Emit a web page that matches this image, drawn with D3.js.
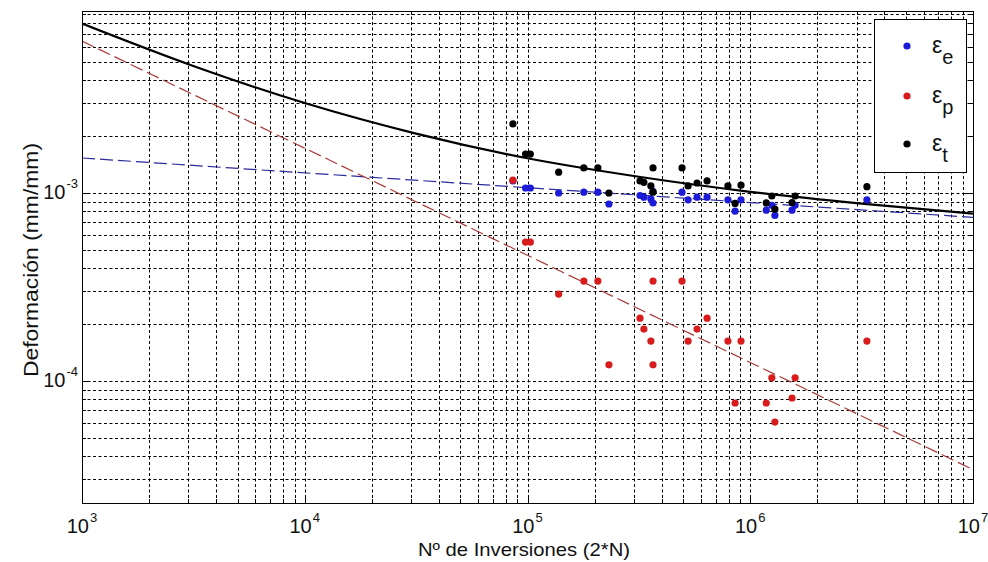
<!DOCTYPE html>
<html>
<head>
<meta charset="utf-8">
<script src="https://cdn.jsdelivr.net/npm/d3@7"></script>
<style>
  html, body { margin: 0; padding: 0; background: #fff; }
  svg { display: block; font-family: "Liberation Sans", Arial, sans-serif; }
</style>
</head>
<body>
<svg id="chart" width="988" height="562"></svg>
<script>
// ---------------- data ----------------
const cycles = [8.6e4, 9.8e4, 1.03e5, 1.38e5, 1.79e5, 2.07e5, 2.32e5, 3.20e5, 3.33e5, 3.58e5, 3.66e5, 3.66e5,
                4.94e5, 5.26e5, 5.77e5, 6.40e5, 7.94e5, 8.55e5, 9.09e5, 1.18e6, 1.25e6, 1.29e6, 1.54e6, 1.59e6, 3.34e6];
const epsElastic = [1.16e-3, 1.063e-3, 1.063e-3, 1.0e-3, 1.01e-3, 1.01e-3, 8.74e-4, 9.7e-4, 9.5e-4, 9.3e-4, 1.02e-3, 8.85e-4,
                1.01e-3, 9.2e-4, 9.5e-4, 9.5e-4, 9.2e-4, 8.0e-4, 9.2e-4, 8.1e-4, 8.6e-4, 7.6e-4, 8.1e-4, 8.6e-4, 9.2e-4];
const epsPlastic = [1.17e-3, 5.48e-4, 5.48e-4, 2.9e-4, 3.4e-4, 3.4e-4, 1.22e-4, 2.16e-4, 1.89e-4, 1.63e-4, 3.4e-4, 1.22e-4,
                3.4e-4, 1.63e-4, 1.89e-4, 2.16e-4, 1.63e-4, 7.64e-5, 1.63e-4, 7.64e-5, 1.04e-4, 6.05e-5, 8.12e-5, 1.04e-4, 1.63e-4];
const epsTotal = [2.33e-3, 1.61e-3, 1.61e-3, 1.29e-3, 1.36e-3, 1.36e-3, 1.0e-3, 1.16e-3, 1.14e-3, 1.09e-3, 1.36e-3, 1.01e-3,
                1.36e-3, 1.09e-3, 1.13e-3, 1.16e-3, 1.09e-3, 8.8e-4, 1.10e-3, 8.86e-4, 9.64e-4, 8.2e-4, 8.9e-4, 9.64e-4, 1.08e-3];

// fitted lines
const fitN = [1e3, 1e7];
const fitElastic = [1.535e-3, 7.42e-4];
const fitPlastic = [6.43e-3, 3.38e-5];
const totalN = [1e3, 3.16e3, 1e4, 3.16e4, 1e5, 3.16e5, 1e6, 3.16e6, 1e7];
const fitTotal = [7.97e-3, 4.74e-3, 3.01e-3, 2.07e-3, 1.53e-3, 1.22e-3, 1.015e-3, 8.78e-4, 7.76e-4];

const xMajorTicks = [1e3, 1e4, 1e5, 1e6, 1e7];
const xTickExp = ["3", "4", "5", "6", "7"];
const yMajorTicks = [1e-4, 1e-3];
const yTickExp = ["-4", "-3"];
const legendSubs = ["e", "p", "t"];
const xTitle = "Nº de Inversiones (2*N)";
const yTitle = "Deformación (mm/mm)";

// ---------------- layout ----------------
const svg = d3.select("#chart");
const L = 82, R = 973, T = 11, B = 503;
const x = d3.scaleLog().domain([1e3, 1e7]).range([L, R]);
const y = d3.scaleLog().domain([2.245e-5, 9.29e-3]).range([B, T]);

svg.append("rect").attr("width", 988).attr("height", 562).attr("fill", "#fff");

// minor/major tick values
const xAll = [];
for (let k = 3; k < 7; k++) for (let m = 1; m <= 9; m++) xAll.push(m * Math.pow(10, k));
const yAll = [];
for (let k = -5; k < -2; k++) for (let m = 1; m <= 9; m++) {
  const v = m * Math.pow(10, k);
  if (v >= 2.245e-5 && v <= 9.29e-3) yAll.push(v);
}

// grid
const grid = svg.append("g").attr("stroke", "#000").attr("stroke-width", 1).attr("stroke-dasharray", "3,2.5");
grid.selectAll("line.vx").data(xAll.filter(v => v > 1e3)).join("line")
  .attr("x1", d => Math.round(x(d)) + 0.5).attr("x2", d => Math.round(x(d)) + 0.5)
  .attr("y1", T).attr("y2", B);
grid.selectAll("line.hy").data(yAll).join("line")
  .attr("y1", d => Math.round(y(d)) + 0.5).attr("y2", d => Math.round(y(d)) + 0.5)
  .attr("x1", L).attr("x2", R);

// axes with inward ticks
const isMajorX = d => xMajorTicks.some(t => Math.abs(t - d) / t < 1e-9);
const isMajorY = d => yMajorTicks.some(t => Math.abs(t - d) / t < 1e-9);
const ticks = svg.append("g").attr("stroke", "#000").attr("stroke-width", 1);
xAll.concat([1e7]).forEach(d => {
  const px = Math.round(x(d)) + 0.5, len = isMajorX(d) ? 8 : 4;
  ticks.append("line").attr("x1", px).attr("x2", px).attr("y1", B).attr("y2", B - len);
  ticks.append("line").attr("x1", px).attr("x2", px).attr("y1", T).attr("y2", T + len);
});
yAll.forEach(d => {
  const py = Math.round(y(d)) + 0.5, len = isMajorY(d) ? 8 : 4;
  ticks.append("line").attr("y1", py).attr("y2", py).attr("x1", L).attr("x2", L + len);
  ticks.append("line").attr("y1", py).attr("y2", py).attr("x1", R).attr("x2", R - len);
});

// clip
svg.append("clipPath").attr("id", "clip").append("rect")
  .attr("x", L).attr("y", T).attr("width", R - L).attr("height", B - T);
const plot = svg.append("g").attr("clip-path", "url(#clip)");

const line = d3.line().x(d => x(d[0])).y(d => y(d[1]));
const lineSmooth = d3.line().x(d => x(d[0])).y(d => y(d[1])).curve(d3.curveMonotoneX);

plot.append("path").datum(fitN.map((n, i) => [n, fitElastic[i]]))
  .attr("d", line).attr("fill", "none").attr("stroke", "#2b2b9a").attr("stroke-width", 1.2)
  .attr("stroke-dasharray", "13,5");
plot.append("path").datum(fitN.map((n, i) => [n, fitPlastic[i]]))
  .attr("d", line).attr("fill", "none").attr("stroke", "#a83a3a").attr("stroke-width", 1.2)
  .attr("stroke-dasharray", "13,5");
plot.append("path").datum(totalN.map((n, i) => [n, fitTotal[i]]))
  .attr("d", lineSmooth).attr("fill", "none").attr("stroke", "#000").attr("stroke-width", 2.2);

// points
const r = 3.6;
const colE = "#1c1cd8", colP = "#d81c1c", colT = "#000";
plot.selectAll("circle.e").data(cycles.map((n, i) => [n, epsElastic[i]])).join("circle")
  .attr("cx", d => x(d[0])).attr("cy", d => y(d[1])).attr("r", r).attr("fill", colE);
plot.selectAll("circle.p").data(cycles.map((n, i) => [n, epsPlastic[i]])).join("circle")
  .attr("cx", d => x(d[0])).attr("cy", d => y(d[1])).attr("r", r).attr("fill", colP);
plot.selectAll("circle.t").data(cycles.map((n, i) => [n, epsTotal[i]])).join("circle")
  .attr("cx", d => x(d[0])).attr("cy", d => y(d[1])).attr("r", r).attr("fill", colT);

// frame
svg.append("rect").attr("x", L + 0.5).attr("y", T + 0.5).attr("width", R - L).attr("height", B - T)
  .attr("fill", "none").attr("stroke", "#000").attr("stroke-width", 1);

// x tick labels
xMajorTicks.forEach((t, i) => {
  const tx = svg.append("text").attr("x", x(t)).attr("y", 533).attr("text-anchor", "middle")
    .attr("font-size", 20).attr("fill", "#111");
  tx.append("tspan").text("10");
  tx.append("tspan").attr("dy", -11).attr("dx", 1).attr("font-size", 13).text(xTickExp[i]);
});
// y tick labels
yMajorTicks.forEach((t, i) => {
  const ty = svg.append("text").attr("x", 78).attr("y", y(t) + 6).attr("text-anchor", "end")
    .attr("font-size", 20).attr("fill", "#111");
  ty.append("tspan").text("10");
  ty.append("tspan").attr("dy", -11).attr("dx", 1).attr("font-size", 13).text(yTickExp[i]);
});

// axis titles
svg.append("text").attr("x", 524).attr("y", 556).attr("text-anchor", "middle")
  .attr("font-size", 19).attr("textLength", 212).attr("lengthAdjust", "spacingAndGlyphs")
  .attr("fill", "#111").text(xTitle);
svg.append("text").attr("transform", "translate(38,260) rotate(-90)").attr("text-anchor", "middle")
  .attr("font-size", 20).attr("textLength", 234).attr("lengthAdjust", "spacingAndGlyphs")
  .attr("fill", "#111").text(yTitle);

// legend
const lg = svg.append("g");
lg.append("rect").attr("x", 874.5).attr("y", 19.5).attr("width", 92).attr("height", 153)
  .attr("fill", "#fff").attr("stroke", "#000").attr("stroke-width", 1);
const legCols = [colE, colP, colT];
const legY = [46, 96, 144];
legendSubs.forEach((s, i) => {
  lg.append("circle").attr("cx", 907).attr("cy", legY[i]).attr("r", r).attr("fill", legCols[i]);
  const tt = lg.append("text").attr("x", 932).attr("y", legY[i] + 7).attr("font-size", 23).attr("fill", "#111");
  tt.append("tspan").text("ε");
  tt.append("tspan").attr("dy", 11).attr("font-size", 20).text(s);
});
</script>
</body>
</html>
